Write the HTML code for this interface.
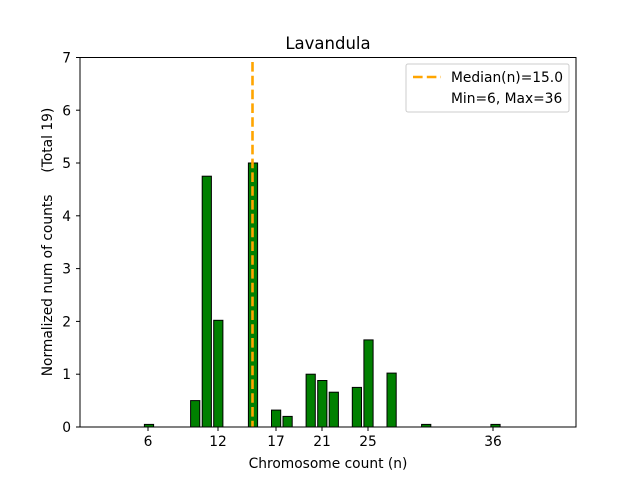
<!DOCTYPE html>
<html><head><style>body{margin:0;background:#fff}</style></head><body>
<svg width="640" height="480" xmlns="http://www.w3.org/2000/svg" font-family="DejaVu Sans, Liberation Sans, sans-serif">
<rect width="640" height="480" fill="#fff"/>
<g fill="#008000" stroke="#000" stroke-width="1">
<rect x="144.4" y="424.4" width="9.2" height="2.6"/>
<rect x="190.6" y="400.6" width="9.2" height="26.4"/>
<rect x="202.2" y="176.2" width="9.2" height="250.8"/>
<rect x="213.7" y="320.3" width="9.2" height="106.7"/>
<rect x="248.4" y="163" width="9.2" height="264"/>
<rect x="271.5" y="410.1" width="9.2" height="16.9"/>
<rect x="283" y="416.4" width="9.2" height="10.6"/>
<rect x="306.1" y="374.2" width="9.2" height="52.8"/>
<rect x="317.7" y="380.5" width="9.2" height="46.5"/>
<rect x="329.2" y="392.2" width="9.2" height="34.8"/>
<rect x="352.3" y="387.4" width="9.2" height="39.6"/>
<rect x="363.9" y="339.9" width="9.2" height="87.1"/>
<rect x="387" y="373.1" width="9.2" height="53.9"/>
<rect x="421.6" y="424.4" width="9.2" height="2.6"/>
<rect x="490.9" y="424.4" width="9.2" height="2.6"/>
</g>
<line x1="252.5" y1="62" x2="252.5" y2="427" stroke="#ffa500" stroke-width="2.6" stroke-dasharray="9.6,4.2"/>
<rect x="80" y="57.5" width="496" height="369.5" fill="none" stroke="#000" stroke-width="1"/>
<g stroke="#000">
<line x1="148" y1="427" x2="148" y2="431"/><line x1="218" y1="427" x2="218" y2="431"/><line x1="276" y1="427" x2="276" y2="431"/><line x1="322" y1="427" x2="322" y2="431"/><line x1="368" y1="427" x2="368" y2="431"/><line x1="493" y1="427" x2="493" y2="431"/>
<line x1="76" y1="427" x2="80" y2="427"/><line x1="76" y1="374.2" x2="80" y2="374.2"/><line x1="76" y1="321.4" x2="80" y2="321.4"/><line x1="76" y1="268.6" x2="80" y2="268.6"/><line x1="76" y1="215.8" x2="80" y2="215.8"/><line x1="76" y1="163" x2="80" y2="163"/><line x1="76" y1="110.2" x2="80" y2="110.2"/><line x1="76" y1="57.5" x2="80" y2="57.5"/>
</g>
<g font-size="13.8" fill="#000" text-anchor="middle">
<text x="148" y="446">6</text><text x="218" y="446">12</text><text x="276" y="446">17</text><text x="322" y="446">21</text><text x="368" y="446">25</text><text x="493" y="446">36</text>
</g>
<g font-size="13.8" fill="#000" text-anchor="end">
<text x="71" y="432">0</text><text x="71" y="379">1</text><text x="71" y="326.5">2</text><text x="71" y="273.5">3</text><text x="71" y="221">4</text><text x="71" y="168">5</text><text x="71" y="115.5">6</text><text x="71" y="62.5">7</text>
</g>
<text x="328" y="468" font-size="13.8" text-anchor="middle">Chromosome count (n)</text>
<text transform="translate(52,242) rotate(-90)" font-size="13.8" text-anchor="middle" xml:space="preserve">Normalized num of counts     (Total 19)</text>
<text x="328" y="49" font-size="16.5" text-anchor="middle">Lavandula</text>
<rect x="406" y="64" width="163" height="48" rx="2" fill="#fff" fill-opacity="0.8" stroke="#ccc"/>
<line x1="413" y1="77" x2="441" y2="77" stroke="#ffa500" stroke-width="2.6" stroke-dasharray="9.6,4.2"/>
<text x="451" y="82" font-size="13.8">Median(n)=15.0</text>
<text x="451" y="103" font-size="13.8">Min=6, Max=36</text>
</svg>
</body></html>
